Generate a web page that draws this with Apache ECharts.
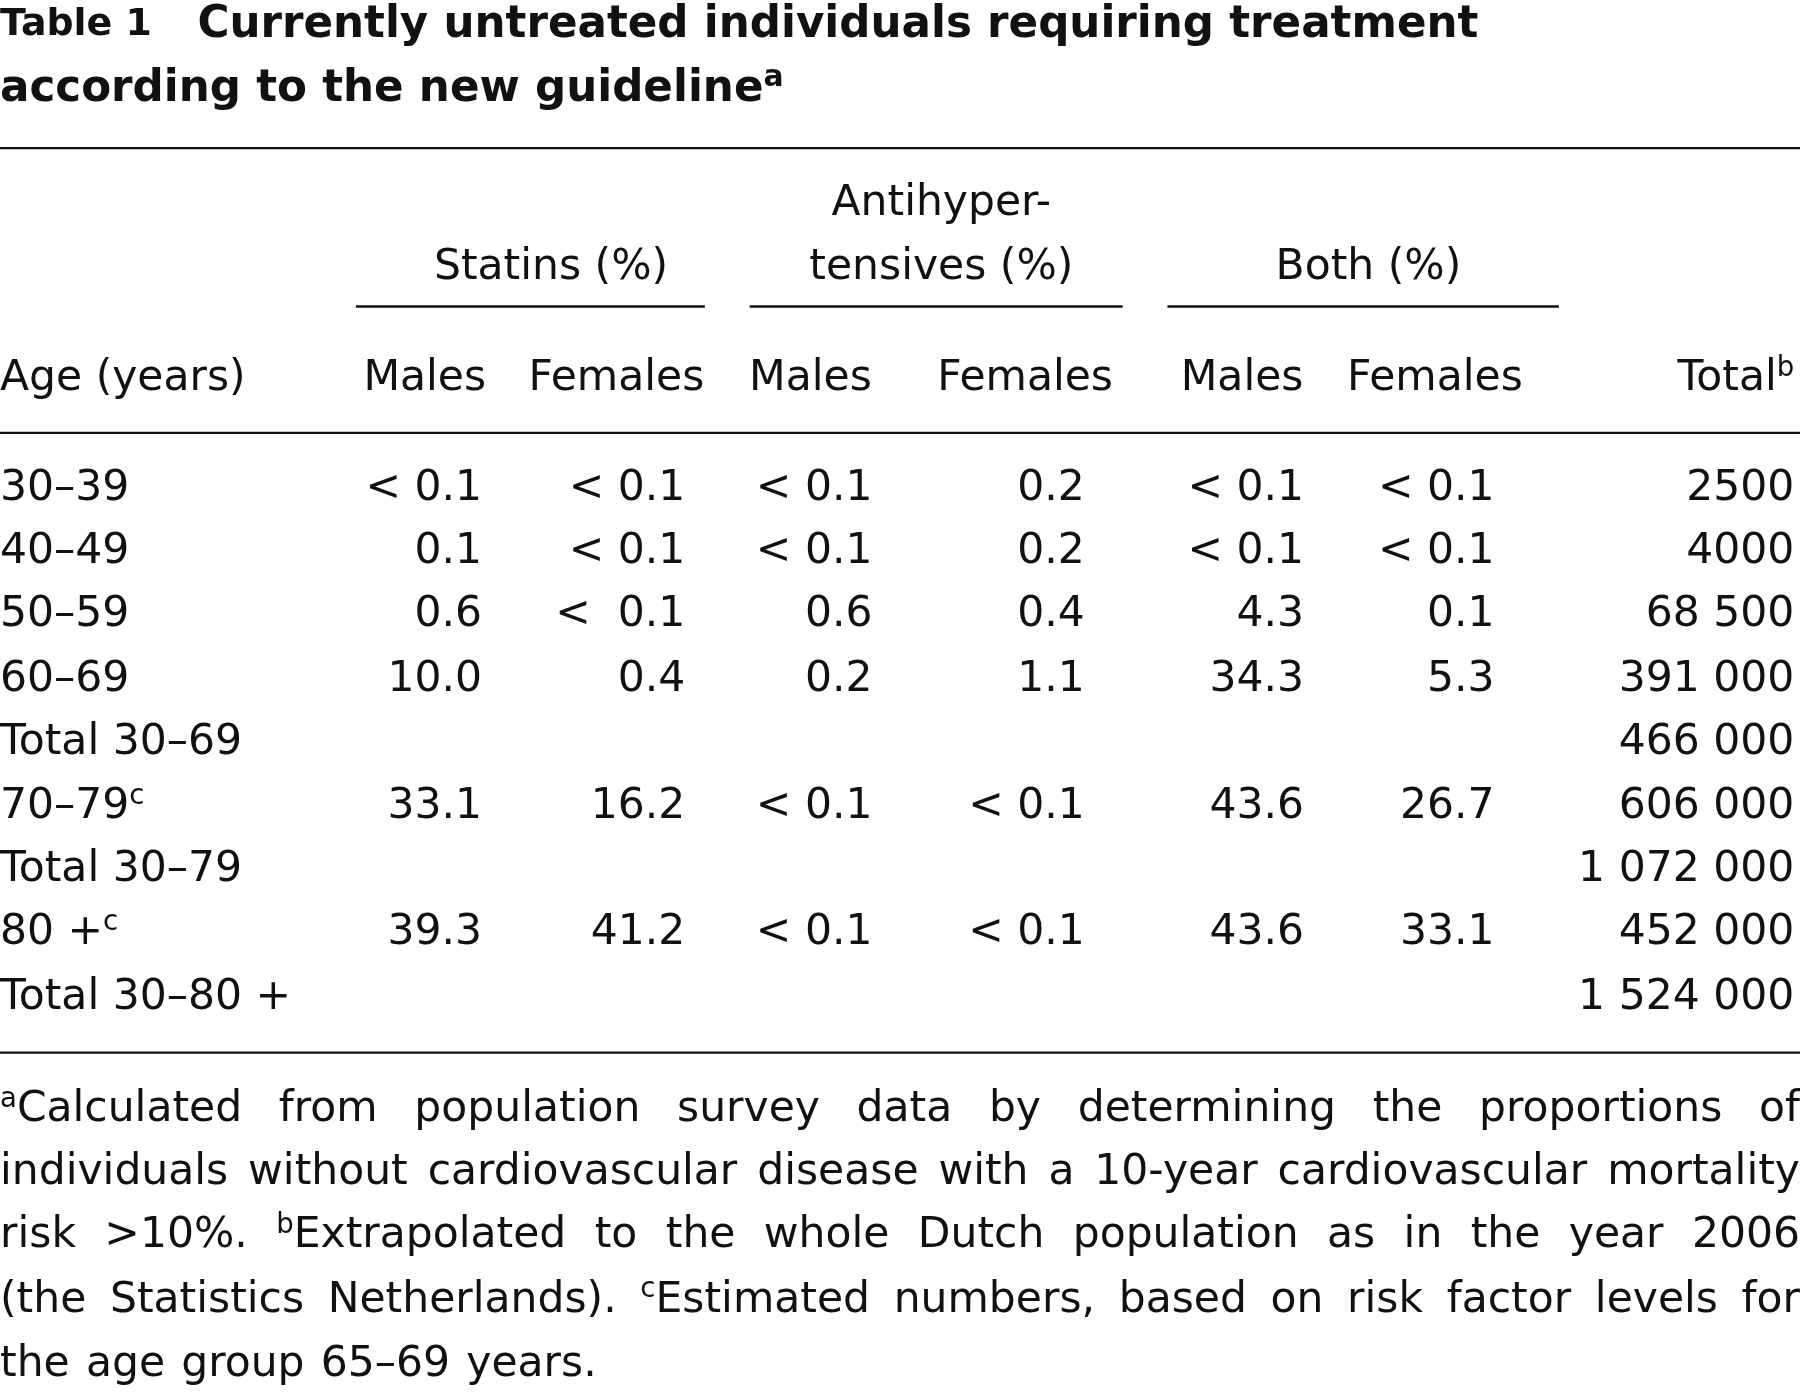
<!DOCTYPE html>
<html>
<head>
<meta charset="utf-8">
<script src="https://cdn.jsdelivr.net/npm/echarts@6/dist/echarts.min.js"></script>
<style>
  html, body { margin: 0; padding: 0; background: #fff; }
  #viz { width: 1800px; height: 1394px; }
</style>
</head>
<body>
<div id="viz"></div>
<script>
const titleLines = ['Currently untreated individuals requiring treatment', 'according to the new guideline']
const groupHeaders = ['Statins (%)', 'tensives (%)', 'Both (%)']
const subHeaders = ['Males', 'Females', 'Males', 'Females', 'Males', 'Females']
const ageLabels = ['30–39', '40–49', '50–59', '60–69', 'Total 30–69', '70–79', 'Total 30–79', '80 +', 'Total 30–80 +']
const ageSup = ['', '', '', '', '', 'c', '', 'c', '']
const statinsM = ['< 0.1', '0.1', '0.6', '10.0', '', '33.1', '', '39.3', '']
const statinsF = ['< 0.1', '< 0.1', '<  0.1', '0.4', '', '16.2', '', '41.2', '']
const antiM = ['< 0.1', '< 0.1', '0.6', '0.2', '', '< 0.1', '', '< 0.1', '']
const antiF = ['0.2', '0.2', '0.4', '1.1', '', '< 0.1', '', '< 0.1', '']
const bothM = ['< 0.1', '< 0.1', '4.3', '34.3', '', '43.6', '', '43.6', '']
const bothF = ['< 0.1', '< 0.1', '0.1', '5.3', '', '26.7', '', '33.1', '']
const totals = ['2500', '4000', '68 500', '391 000', '466 000', '606 000', '1 072 000', '452 000', '1 524 000']
const footLines = [
  ['^aCalculated', 'from', 'population', 'survey', 'data', 'by', 'determining', 'the', 'proportions', 'of'],
  ['individuals', 'without', 'cardiovascular', 'disease', 'with', 'a', '10-year', 'cardiovascular', 'mortality'],
  ['risk', '>10%.', '^bExtrapolated', 'to', 'the', 'whole', 'Dutch', 'population', 'as', 'in', 'the', 'year', '2006'],
  ['(the', 'Statistics', 'Netherlands).', '^cEstimated', 'numbers,', 'based', 'on', 'risk', 'factor', 'levels', 'for'],
  ['the', 'age', 'group', '65–69', 'years.']
]

const S = 1800 / 1568
const FONT = '"DejaVu Sans", sans-serif'
const fs = 37 * S
const supFs = 24 * S
const W = 1568 * S
const g = []
const supStyle = { fontSize: supFs, fontFamily: FONT, verticalAlign: 'top', padding: [0, 0, 18 * S, 0] }

const txt = (x, y, text, align, opts) => g.push({
  type: 'text', x: x * S, y: y * S,
  style: Object.assign({ text, fill: '#111', font: `${fs}px ${FONT}`, textAlign: align || 'left', textVerticalAlign: 'middle',
    rich: { s: supStyle } }, opts || {})
})
const rule = (x1, x2, y, w) => g.push({ type: 'line', shape: { x1: x1 * S, y1: y * S, x2: x2 * S, y2: y * S }, style: { stroke: '#111', lineWidth: (w || 2) * S } })

// title
const tFont = `bold ${38 * S}px ${FONT}`
txt(0, 22, '{b|Table 1}   ' + titleLines[0], 'left', { font: tFont, rich: { b: { fontSize: 33 * S, fontWeight: 'bold', fontFamily: FONT } } })
txt(0, 78, titleLines[1] + '{s|a}', 'left', { font: tFont, rich: { s: { fontSize: 26 * S, fontWeight: 'bold', fontFamily: FONT, verticalAlign: 'top', padding: [0, 0, 20 * S, 0] } } })

rule(0, 1568, 129)
txt(820, 178, 'Antihyper-', 'center')
const groupX = [480, 820, 1192]
groupHeaders.forEach((h, i) => txt(groupX[i], 233, h, 'center'))
rule(310, 614, 267); rule(653, 978, 267); rule(1017, 1358, 267)

txt(0, 330, 'Age (years)')
const subX = [370, 537, 706, 893, 1082, 1250]
subHeaders.forEach((h, i) => txt(subX[i], 330, h, 'center'))
txt(1563, 330, 'Total{s|b}', 'right')
rule(0, 1568, 377)

const rowY = [426, 481, 536, 592, 647, 703, 758, 813, 869]
const cols = [statinsM, statinsF, antiM, antiF, bothM, bothF, totals]
const colRight = [420, 597, 760, 945, 1136, 1302, 1563]
ageLabels.forEach((a, r) => {
  txt(0, rowY[r], a + (ageSup[r] ? '{s|' + ageSup[r] + '}' : ''))
  cols.forEach((c, ci) => { if (c[r]) txt(colRight[ci], rowY[r], c[r], 'right') })
})
rule(0, 1568, 917)

// footnote, justified except the last line
const cv = document.createElement('canvas').getContext('2d')
const measure = (t, size) => { cv.font = `${size}px ${FONT}`; return cv.measureText(t).width }
const footY = [967, 1022, 1077, 1133, 1189]
footLines.forEach((words, li) => {
  const parts = words.map(w => w[0] === '^' ? { sup: w[1], t: w.slice(2) } : { sup: '', t: w })
  const widths = parts.map(p => measure(p.t, fs) + (p.sup ? measure(p.sup, supFs) : 0))
  const total = widths.reduce((a, b) => a + b, 0)
  const last = li === footLines.length - 1
  const gap = last ? measure(' ', fs) * 1.2 : Math.max(4, (W - total) / (parts.length - 1))
  let x = 0
  parts.forEach((p, i) => {
    g.push({ type: 'text', x, y: footY[li] * S, style: { text: (p.sup ? '{s|' + p.sup + '}' : '') + p.t, fill: '#111', font: `${fs}px ${FONT}`, textVerticalAlign: 'middle',
      rich: { s: supStyle } } })
    x += widths[i] + gap
  })
})

const chart = echarts.init(document.getElementById('viz'), null, { renderer: 'canvas' })
chart.setOption({ backgroundColor: '#fff', animation: false, graphic: g })
</script>
</body>
</html>
